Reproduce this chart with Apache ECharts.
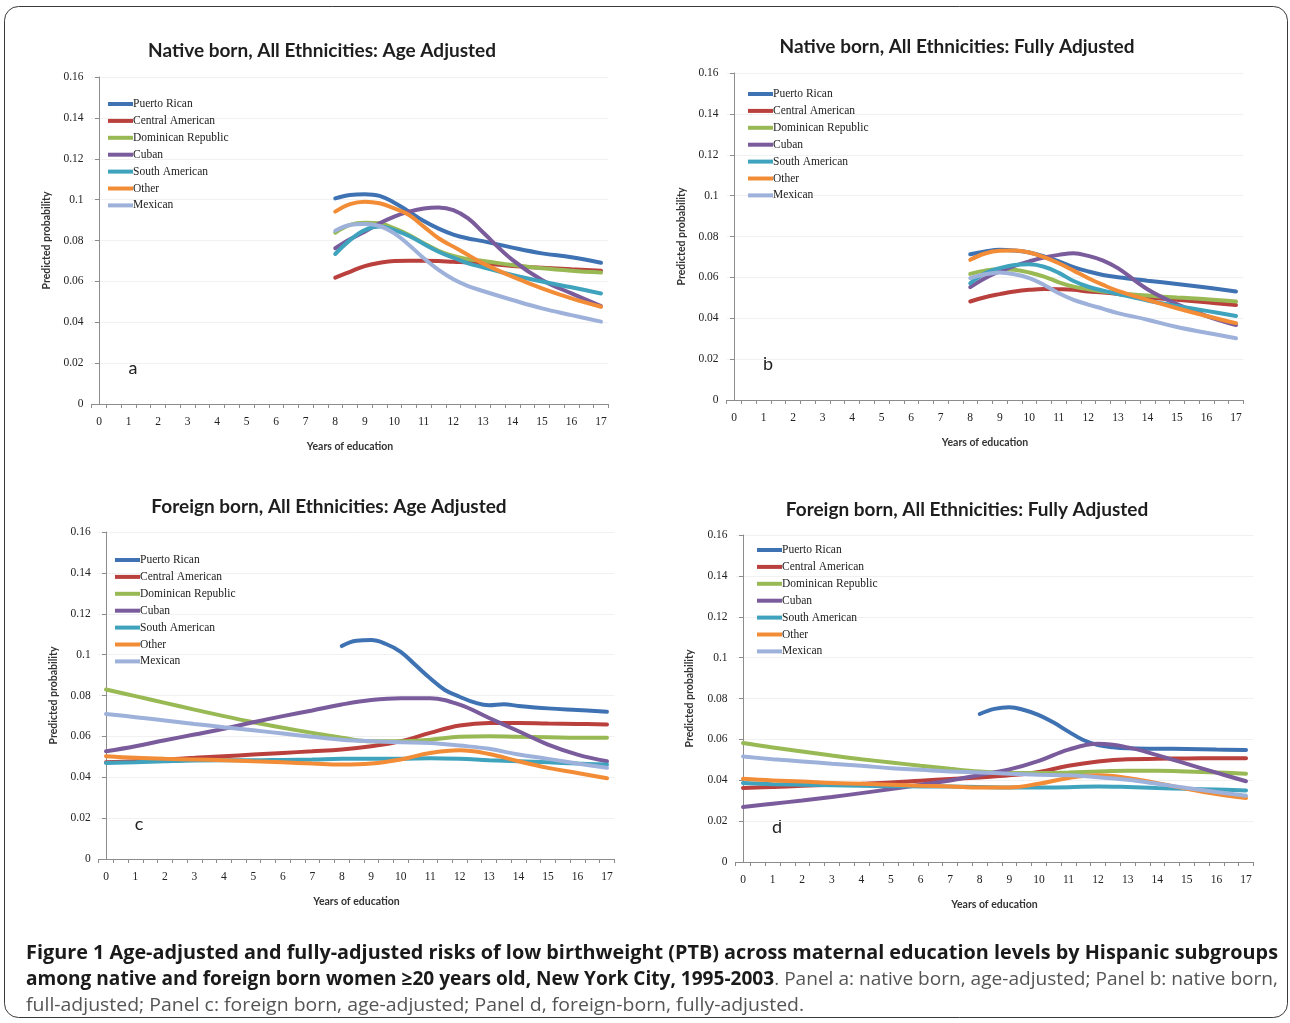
<!DOCTYPE html>
<html><head><meta charset="utf-8">
<script src="https://cdn.jsdelivr.net/npm/echarts@6/dist/echarts.min.js"></script>
<style>html,body{margin:0;padding:0;background:#fff}#c{width:1290px;height:1023px}</style>
</head><body><div id="c"></div><script>
// ---- categories / tick labels ----
const groups = ['Puerto Rican','Central American','Dominican Republic','Cuban','South American','Other','Mexican'];
const xTickLabels = [0,1,2,3,4,5,6,7,8,9,10,11,12,13,14,15,16,17];
const yearsNative = [8,8.5,9,9.5,10,10.5,11,11.5,12,12.5,13,14,15,16,17];
const yearsForeign = [0,1,2,3,4,5,6,7,8,9,10,11,12,13,14,15,16,17];
const yearsForeignPRc = [8,8.5,9,9.5,10,10.5,11,11.5,12,12.5,13,13.5,14,15,16,17];
const yearsForeignPRd = [8,8.5,9,9.5,10,10.5,11,11.5,12,12.5,13,14,15,16,17];

// ---- Panel a: native born, age adjusted ----
const aPuertoRican = [0.1006,0.1023,0.1026,0.1018,0.0985,0.0941,0.0895,0.0858,0.0829,0.0810,0.0797,0.0765,0.0737,0.0718,0.0691];
const aCentralAmerican = [0.0618,0.0647,0.0675,0.0691,0.0700,0.0701,0.0701,0.0700,0.0696,0.0693,0.0688,0.0675,0.0667,0.0659,0.0652];
const aDominican = [0.0838,0.0876,0.0887,0.0884,0.0859,0.0827,0.0786,0.0750,0.0724,0.0708,0.0700,0.0680,0.0664,0.0652,0.0643];
const aCuban = [0.0762,0.0806,0.0843,0.0884,0.0917,0.0941,0.0957,0.0962,0.0949,0.0908,0.0840,0.0705,0.0607,0.0541,0.0479];
const aSouthAmerican = [0.0734,0.0802,0.0851,0.0868,0.0851,0.0822,0.0783,0.0745,0.0716,0.0688,0.0669,0.0631,0.0599,0.0571,0.0541];
const aOther = [0.0941,0.0978,0.0990,0.0982,0.0957,0.0925,0.0868,0.0811,0.0770,0.0729,0.0688,0.0623,0.0566,0.0517,0.0476];
const aMexican = [0.0848,0.0876,0.0881,0.0871,0.0835,0.0778,0.0713,0.0656,0.0610,0.0577,0.0553,0.0509,0.0468,0.0435,0.0403];

// ---- Panel b: native born, fully adjusted ----
const bPuertoRican = [0.0713,0.0727,0.0735,0.0731,0.0722,0.0702,0.0678,0.0650,0.0629,0.0612,0.0601,0.0584,0.0568,0.0550,0.0531];
const bCentralAmerican = [0.0482,0.0503,0.0518,0.0531,0.0539,0.0543,0.0542,0.0539,0.0531,0.0526,0.0519,0.0503,0.0490,0.0478,0.0465];
const bDominican = [0.0617,0.0633,0.0640,0.0637,0.0624,0.0604,0.0576,0.0555,0.0542,0.0531,0.0522,0.0511,0.0501,0.0493,0.0482];
const bCuban = [0.0552,0.0596,0.0629,0.0656,0.0678,0.0697,0.0710,0.0718,0.0705,0.0682,0.0645,0.0542,0.0469,0.0411,0.0367];
const bSouthAmerican = [0.0571,0.0620,0.0645,0.0661,0.0664,0.0652,0.0622,0.0582,0.0554,0.0535,0.0519,0.0487,0.0460,0.0436,0.0411];
const bOther = [0.0686,0.0717,0.0730,0.0731,0.0722,0.0699,0.0669,0.0633,0.0596,0.0563,0.0534,0.0490,0.0449,0.0411,0.0376];
const bMexican = [0.0596,0.0615,0.0624,0.0615,0.0596,0.0563,0.0522,0.0490,0.0467,0.0446,0.0425,0.0393,0.0357,0.0329,0.0302];

// ---- Panel c: foreign born, age adjusted ----
const cPuertoRican = [0.1042,0.1068,0.1071,0.1052,0.1014,0.0949,0.0884,0.0827,0.0794,0.0766,0.0752,0.0757,0.0749,0.0737,0.0729,0.0721];
const cCentralAmerican = [0.0473,0.0478,0.0487,0.0495,0.0503,0.0511,0.0519,0.0527,0.0536,0.0552,0.0576,0.0617,0.0653,0.0666,0.0666,0.0663,0.0661,0.0658];
const cDominican = [0.0829,0.0797,0.0764,0.0731,0.0699,0.0669,0.0642,0.0617,0.0593,0.0576,0.0576,0.0584,0.0598,0.0601,0.0598,0.0596,0.0593,0.0593];
const cCuban = [0.0527,0.0552,0.0581,0.0609,0.0637,0.0669,0.0699,0.0727,0.0756,0.0778,0.0787,0.0786,0.0755,0.0690,0.0625,0.0560,0.0511,0.0478];
const cSouthAmerican = [0.0470,0.0473,0.0478,0.0482,0.0483,0.0483,0.0485,0.0487,0.0490,0.0490,0.0490,0.0493,0.0490,0.0483,0.0478,0.0473,0.0467,0.0462];
const cOther = [0.0503,0.0495,0.0490,0.0487,0.0483,0.0478,0.0473,0.0467,0.0462,0.0467,0.0487,0.0519,0.0532,0.0514,0.0478,0.0446,0.0421,0.0395];
const cMexican = [0.0710,0.0694,0.0678,0.0661,0.0645,0.0630,0.0614,0.0598,0.0584,0.0576,0.0571,0.0568,0.0555,0.0539,0.0511,0.0490,0.0467,0.0446];

// ---- Panel d: foreign born, fully adjusted ----
const dPuertoRican = [0.0724,0.0749,0.0757,0.0744,0.0719,0.0682,0.0638,0.0597,0.0572,0.0561,0.0556,0.0554,0.0553,0.0550,0.0548];
const dCentralAmerican = [0.0362,0.0367,0.0373,0.0378,0.0383,0.0389,0.0398,0.0406,0.0414,0.0424,0.0440,0.0471,0.0492,0.0503,0.0505,0.0507,0.0508,0.0508];
const dDominican = [0.0582,0.0560,0.0541,0.0521,0.0503,0.0487,0.0471,0.0456,0.0443,0.0435,0.0435,0.0438,0.0443,0.0446,0.0446,0.0443,0.0438,0.0432];
const dCuban = [0.0269,0.0285,0.0301,0.0318,0.0337,0.0357,0.0378,0.0399,0.0426,0.0453,0.0495,0.0550,0.0578,0.0561,0.0523,0.0480,0.0437,0.0395];
const dSouthAmerican = [0.0386,0.0381,0.0378,0.0375,0.0373,0.0371,0.0370,0.0369,0.0367,0.0365,0.0365,0.0366,0.0370,0.0367,0.0362,0.0358,0.0355,0.0350];
const dOther = [0.0407,0.0399,0.0394,0.0386,0.0383,0.0378,0.0373,0.0370,0.0365,0.0365,0.0383,0.0411,0.0424,0.0411,0.0386,0.0358,0.0332,0.0313];
const dMexican = [0.0516,0.0503,0.0492,0.0481,0.0471,0.0459,0.0451,0.0443,0.0438,0.0432,0.0427,0.0424,0.0415,0.0402,0.0383,0.0362,0.0342,0.0324];

// ---- text ----
const panelTitles = ['Native born, All Ethnicities: Age Adjusted','Native born, All Ethnicities: Fully Adjusted','Foreign born, All Ethnicities: Age Adjusted','Foreign born, All Ethnicities: Fully Adjusted'];
const panelLetters = ['a','b','c','d'];
const yName = 'Predicted probability';
const xName = 'Years of education';
const captionBold1 = 'Figure 1 Age-adjusted and fully-adjusted risks of low birthweight (PTB) across maternal education levels by Hispanic subgroups';
const captionBold2 = 'among native and foreign born women \u226520 years old, New York City, 1995-2003';
const captionNorm2 = '. Panel a: native born, age-adjusted; Panel b: native born,';
const captionNorm3 = 'full-adjusted; Panel c: foreign born, age-adjusted; Panel d, foreign-born, fully-adjusted.';

// ---- styling ----
const colors = ['#3f72b3','#b9403d','#98b954','#7a5b9c','#3fa3be','#f28c36','#9db1da'];
const N = yearsNative, F = yearsForeign;
const panelData = [
  {x:[N,N,N,N,N,N,N], v:[aPuertoRican,aCentralAmerican,aDominican,aCuban,aSouthAmerican,aOther,aMexican]},
  {x:[N,N,N,N,N,N,N], v:[bPuertoRican,bCentralAmerican,bDominican,bCuban,bSouthAmerican,bOther,bMexican]},
  {x:[yearsForeignPRc,F,F,F,F,F,F], v:[cPuertoRican,cCentralAmerican,cDominican,cCuban,cSouthAmerican,cOther,cMexican]},
  {x:[yearsForeignPRd,F,F,F,F,F,F], v:[dPuertoRican,dCentralAmerican,dDominican,dCuban,dSouthAmerican,dOther,dMexican]}
];
// layout: x of label "0", spacing per year, top of plot, title pos, legend pos, letter pos
const layout = [
  {x0:99, s:29.53, top:77, title:[322,51], legend:[108,98], letter:[133,368]},
  {x0:734, s:29.53, top:73, title:[957,47], legend:[748,88], letter:[768,364]},
  {x0:106, s:29.47, top:532, title:[329,507], legend:[115,554], letter:[139,824]},
  {x0:743, s:29.59, top:535, title:[967,510], legend:[757,544], letter:[777,827]}
];
const XMIN = -0.25, XMAX = 17.25, PH = 327;
const tickVals = []; for (let t = XMIN; t <= XMAX + 1e-9; t += 0.5) tickVals.push(+t.toFixed(2));

const serif = '"Liberation Serif", "DejaVu Serif", serif';
const sans = 'Lato, "Open Sans", sans-serif';
const axisCol = '#8c8c8c';

const grids = [], xAxes = [], yAxes = [], legends = [], series = [], graphics = [];
layout.forEach((L, i) => {
  const left = L.x0 + XMIN * L.s;
  grids.push({left: left, top: L.top, width: (XMAX - XMIN) * L.s, height: PH, containLabel: false});
  xAxes.push({
    gridIndex: i, type: 'value', min: XMIN, max: XMAX,
    name: xName, nameLocation: 'middle', nameGap: 37,
    nameTextStyle: {fontFamily: sans, fontWeight: 'bold', fontSize: 10.5, color: '#333'},
    axisLine: {show: true, lineStyle: {color: axisCol, width: 1}},
    axisTick: {show: true, length: 4, lineStyle: {color: axisCol}, customValues: tickVals},
    axisLabel: {customValues: xTickLabels, margin: 12, fontFamily: serif, fontSize: 11.5, color: '#222'},
    splitLine: {show: false}
  });
  yAxes.push({
    gridIndex: i, type: 'value', min: 0, max: 0.16, interval: 0.02,
    name: yName, nameLocation: 'middle', nameGap: 40, nameRotate: 90,
    nameTextStyle: {fontFamily: sans, fontWeight: 'bold', fontSize: 10.5, color: '#333'},
    axisLine: {show: true, lineStyle: {color: axisCol, width: 1}},
    axisTick: {show: true, length: 4, lineStyle: {color: axisCol}},
    axisLabel: {margin: 8, fontFamily: serif, fontSize: 11.5, color: '#222'},
    splitLine: {show: true, lineStyle: {color: '#f1f1f1', width: 1}}
  });
  legends.push({
    data: groups, orient: 'vertical', left: L.legend[0], top: L.legend[1],
    itemWidth: 25, itemHeight: 12, itemGap: 4.9, padding: 0,
    icon: 'path://M0,4 L25,4 L25,8 L0,8 Z',
    textStyle: {fontFamily: serif, fontSize: 11.5, lineHeight: 11, color: '#222', padding: [0,0,0,-5]},
    selectedMode: false
  });
  groups.forEach((g, k) => {
    const xs = panelData[i].x[k], vs = panelData[i].v[k];
    series.push({
      name: g, type: 'line', xAxisIndex: i, yAxisIndex: i,
      data: xs.map((x, j) => [x, vs[j]]),
      smooth: 0.4, symbol: 'none', showSymbol: false,
      lineStyle: {width: 4, color: colors[k], cap: 'round'},
      itemStyle: {color: colors[k]},
      emphasis: {disabled: true}
    });
  });
  graphics.push({type: 'text', x: L.title[0], y: L.title[1], style: {text: panelTitles[i], fontFamily: sans, fontWeight: 'bold', fontSize: 19, fill: '#1e1e1e', align: 'center', verticalAlign: 'middle'}});
  graphics.push({type: 'text', x: L.letter[0], y: L.letter[1], style: {text: panelLetters[i], fontFamily: sans, fontSize: 18, fill: '#222', align: 'center', verticalAlign: 'middle'}});
});

// caption, fitted to the reference line width
const capFont = '"Open Sans", sans-serif', capSize = 19;
const ctx = document.createElement('canvas').getContext('2d');
function w(text, bold) { ctx.font = (bold ? 'bold ' : '') + capSize + 'px ' + capFont; return ctx.measureText(text).width; }
const lineW = 1252;
const s1 = lineW / w(captionBold1, true);
const s2 = lineW / (w(captionBold2, true) + w(captionNorm2, false));
const s3 = (s1 + s2) / 2;
const rich = {b: {fontFamily: capFont, fontSize: capSize, fontWeight: 'bold', fill: '#1a1a1a'}, n: {fontFamily: capFont, fontSize: capSize, fill: '#555'}};
graphics.push({type: 'text', x: 26, y: 954, scaleX: s1, style: {text: '{b|' + captionBold1 + '}', rich: rich, verticalAlign: 'middle'}});
graphics.push({type: 'text', x: 26, y: 980, scaleX: s2, style: {text: '{b|' + captionBold2 + '}{n|' + captionNorm2 + '}', rich: rich, verticalAlign: 'middle'}});
graphics.push({type: 'text', x: 26, y: 1006, scaleX: s3, style: {text: '{n|' + captionNorm3 + '}', rich: rich, verticalAlign: 'middle'}});
graphics.push({type: 'rect', shape: {x: 4.5, y: 6.5, width: 1283, height: 1011, r: 14}, style: {fill: 'none', stroke: '#3a3a3a', lineWidth: 1}, z: -1});

const chart = echarts.init(document.getElementById('c'), null, {renderer: 'canvas'});
chart.setOption({
  animation: false, backgroundColor: '#fff',
  grid: grids, xAxis: xAxes, yAxis: yAxes, legend: legends, series: series, graphic: graphics
});
</script></body></html>
